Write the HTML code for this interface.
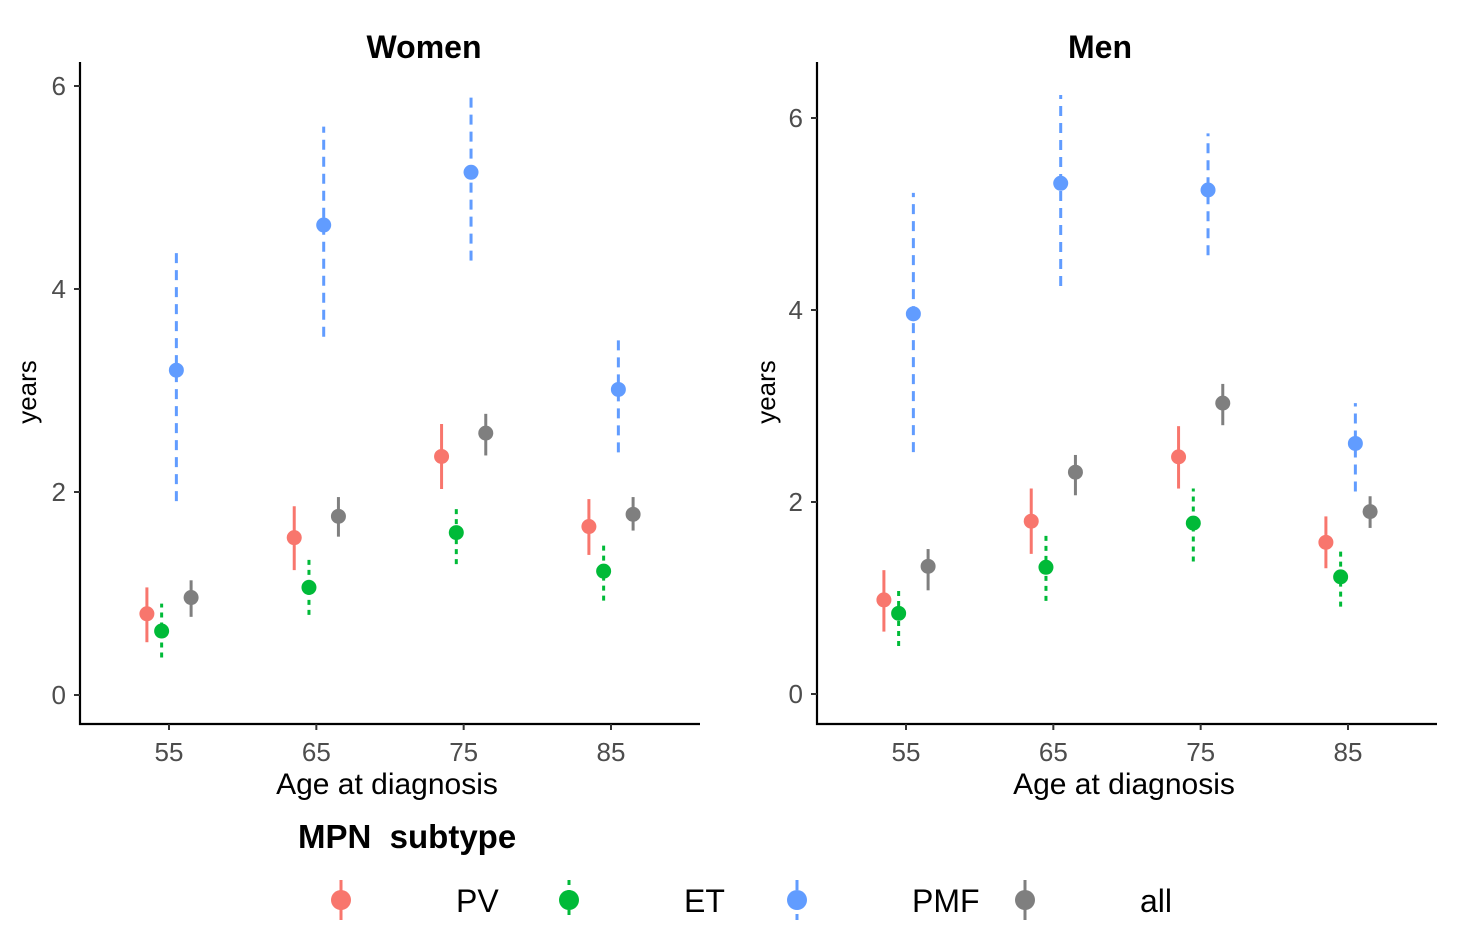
<!DOCTYPE html>
<html><head><meta charset="utf-8">
<style>
html,body{margin:0;padding:0;background:#fff;}
svg{display:block;font-family:"Liberation Sans",Arial,sans-serif;}
</style></head>
<body>
<svg id="chart" width="1466" height="942" viewBox="0 0 1466 942"></svg>
<script>
const ages = [55, 65, 75, 85];
const subtypes = ["PV", "ET", "PMF", "all"];
const yTicks = [0, 2, 4, 6];
// Women: estimates, lower, upper per subtype
const womenPV = [0.80, 1.55, 2.35, 1.66];
const womenPVlo = [0.52, 1.23, 2.03, 1.38];
const womenPVhi = [1.06, 1.86, 2.67, 1.93];
const womenET = [0.63, 1.06, 1.60, 1.22];
const womenETlo = [0.37, 0.79, 1.29, 0.93];
const womenEThi = [0.90, 1.34, 1.87, 1.50];
const womenPMF = [3.20, 4.63, 5.15, 3.01];
const womenPMFlo = [1.91, 3.53, 4.28, 2.39];
const womenPMFhi = [4.36, 5.60, 5.93, 3.50];
const womenAll = [0.96, 1.76, 2.58, 1.78];
const womenAlllo = [0.77, 1.56, 2.36, 1.62];
const womenAllhi = [1.13, 1.95, 2.77, 1.95];
// Men
const menPV = [0.98, 1.80, 2.47, 1.58];
const menPVlo = [0.65, 1.46, 2.14, 1.31];
const menPVhi = [1.29, 2.14, 2.79, 1.85];
const menET = [0.84, 1.32, 1.78, 1.22];
const menETlo = [0.50, 0.97, 1.38, 0.91];
const menEThi = [1.11, 1.69, 2.14, 1.52];
const menPMF = [3.96, 5.32, 5.25, 2.61];
const menPMFlo = [2.52, 4.25, 4.57, 2.11];
const menPMFhi = [5.22, 6.24, 5.84, 3.03];
const menAll = [1.33, 2.31, 3.03, 1.90];
const menAlllo = [1.08, 2.07, 2.80, 1.73];
const menAllhi = [1.51, 2.49, 3.23, 2.06];

const colors = {PV:"#F8766D", ET:"#00BA38", PMF:"#619CFF", all:"#7F7F7F"};
const dashes = {PV:"", ET:"5,5", PMF:"10,7", all:""};
const offsets = {PV:-0.15, ET:-0.05, PMF:0.05, all:0.15};

const NS = "http://www.w3.org/2000/svg";
const svg = document.getElementById("chart");
function mk(tag, attrs, parent){
  const e = document.createElementNS(NS, tag);
  for (const k in attrs) e.setAttribute(k, attrs[k]);
  (parent||svg).appendChild(e); return e;
}

const panels = [
  {name:"women", title:"Women", left:80, right:700, x55:169, x85:611, y0:695, y6:86, titleX:424, ylabX:36,
   data:{PV:[womenPV,womenPVlo,womenPVhi],ET:[womenET,womenETlo,womenEThi],PMF:[womenPMF,womenPMFlo,womenPMFhi],all:[womenAll,womenAlllo,womenAllhi]}},
  {name:"men", title:"Men", left:817, right:1437, x55:906, x85:1348, y0:694, y6:118, titleX:1100, ylabX:775,
   data:{PV:[menPV,menPVlo,menPVhi],ET:[menET,menETlo,menEThi],PMF:[menPMF,menPMFlo,menPMFhi],all:[menAll,menAlllo,menAllhi]}}
];

panels.forEach(p=>{
  const g = mk("g",{});
  
  
  const xs = v => p.x55 + (v - 55) * (p.x85 - p.x55) / 30;
  const ys = v => p.y0 + v * (p.y6 - p.y0) / 6;
  const bottom = 724;
  const t = mk("text",{x:p.titleX, y:58, "text-anchor":"middle", "font-size":32, "font-weight":"bold", fill:"#000"}, g);
  t.textContent = p.title;
  
  
  const ax = mk("path",{d:`M${p.left},62 V${bottom} H${p.right}`, stroke:"#000", "stroke-width":2.2, fill:"none"}, g);
  
  
  yTicks.forEach(v=>{
    const y = ys(v);
    mk("line",{x1:p.left-6, x2:p.left, y1:y, y2:y, stroke:"#333", "stroke-width":2}, g);
    const tl = mk("text",{x:p.left-14, y:y+9, "text-anchor":"end", "font-size":26, fill:"#4d4d4d"}, g);
    tl.textContent = v;
    
    
  });
  ages.forEach(a=>{
    const x = xs(a);
    mk("line",{x1:x, x2:x, y1:bottom, y2:bottom+6, stroke:"#333", "stroke-width":2}, g);
    const tl = mk("text",{x:x, y:bottom+37, "text-anchor":"middle", "font-size":26, fill:"#4d4d4d"}, g);
    tl.textContent = a;
    
    
  });
  const xt = mk("text",{x:(p.left+p.right)/2 - 3, y:794, "text-anchor":"middle", "font-size":30, fill:"#000"}, g);
  xt.textContent = "Age at diagnosis";
  
  
  const yt = mk("text",{x:0, y:0, transform:`translate(${p.ylabX},392) rotate(-90)`, "text-anchor":"middle", "font-size":26, fill:"#000"}, g);
  yt.textContent = "years";
  
  
  subtypes.forEach(s=>{
    const [est, lo, hi] = p.data[s];
    ages.forEach((a,i)=>{
      const x = xs(a + offsets[s]*10);
      const ln = mk("line",{x1:x, x2:x, y1:ys(lo[i]), y2:ys(hi[i]), stroke:colors[s], "stroke-width":3, "stroke-dasharray":dashes[s]}, g);
      
      
      const c = mk("circle",{cx:x, cy:ys(est[i]), r:7.5, fill:colors[s]}, g);
      
      
    });
  });
});

// Legend
const lg = mk("g",{});


const lt = mk("text",{x:298, y:848, "font-size":33, "font-weight":"bold", fill:"#000"}, lg);
lt.textContent = "MPN\u00a0\u00a0subtype";


const keyX = [341, 569, 797, 1025];
subtypes.forEach((s,i)=>{
  const x = keyX[i];
  const e = mk("g",{}, lg);
  
  
  mk("line",{x1:x, x2:x, y1:880, y2:920, stroke:colors[s], "stroke-width":3, "stroke-dasharray":dashes[s]}, e);
  mk("circle",{cx:x, cy:900, r:10, fill:colors[s]}, e);
  const tx = mk("text",{x:x+115, y:912, "font-size":32, "text-anchor":"start", fill:"#000"}, e);
  tx.textContent = s;
});
</script>
</body></html>
